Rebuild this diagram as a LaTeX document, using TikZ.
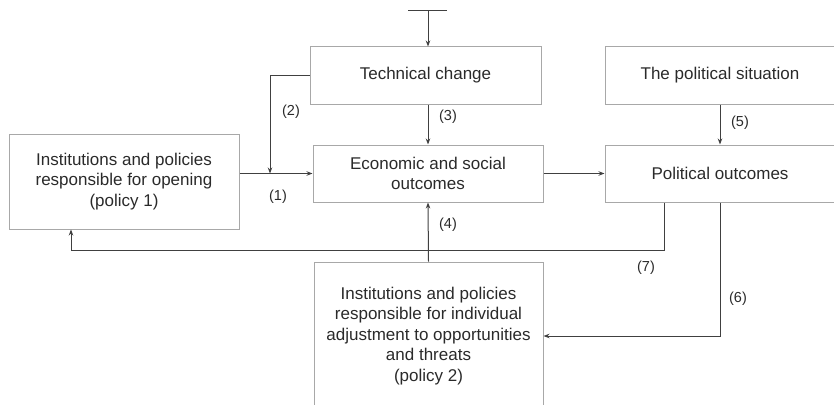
\documentclass[tikz,border=0pt]{standalone}
\usepackage{fontspec}
\setmainfont{Liberation Sans}
\usetikzlibrary{arrows.meta}
\definecolor{boxgray}{HTML}{A8A8A8}
\definecolor{linegray}{HTML}{404040}
\definecolor{txtgray}{HTML}{2A2A2A}
\tikzset{
  stage/.style={draw=boxgray,line width=1pt,rectangle,align=center,text=txtgray,
    font=\fontsize{17}{20.5}\selectfont,inner sep=0pt},
  link/.style={draw=linegray,line width=1pt,-{Stealth[length=6pt,width=4.5pt]}},
  tag/.style={text=txtgray,font=\fontsize{14.5}{17}\selectfont,inner sep=0pt}
}
\newcommand{\tagat}[4]{\node[tag] (#1) at (#2,#3) {#4};}

\begin{document}
\begin{tikzpicture}[x=1pt,y=-1pt]
	\useasboundingbox (0,0) rectangle (834,404);
	\clip (0,0) rectangle (834,404);
	
	% The boxes
	\node[stage,minimum width=231pt,minimum height=57pt] (tech) at (425.5,75.5) {Technical change};
	\node[stage,minimum width=230pt,minimum height=57pt] (econ) at (428,173.5) {Economic and social\\outcomes};
	\node[stage,minimum width=230pt,minimum height=57pt] (polsit) at (720,75.5) {The political situation};
	\node[stage,minimum width=230pt,minimum height=57pt] (polout) at (720,173.5) {Political outcomes};
	\node[stage,minimum width=230pt,minimum height=95pt] (policy1) at (124,181.5) {Institutions and policies\\responsible for opening\\(policy 1)};
	\node[stage,minimum width=229pt,minimum height=148pt] (policy2) at (428.5,336) {Institutions and policies\\responsible for individual\\adjustment to opportunities\\and threats\\(policy 2)};
	
	% Free ends of the connectors
	\coordinate (topL) at (408,11);
	\coordinate (topR) at (447,11);
	\coordinate (topIn) at (428,11);
	\coordinate (join2) at (270,173.5);
	\coordinate (turn7a) at (664,250);
	\coordinate (turn7b) at (71,250);
	
	% Connectors
	\draw[draw=linegray,line width=1pt] (topL) -- (topR);
	\draw[link] (topIn) -- (topIn |- tech.north);
	\draw[link] (policy1.east |- econ.west) -- (econ.west);
	\draw[link] (tech.west) -| (join2);
	\draw[link] (econ.north |- tech.south) -- (econ.north);
	\draw[link] (econ.east) -- (polout.west);
	\draw[link] (polsit.south) -- (polout.north);
	\draw[link] (policy2.north) -- (econ.south);
	\draw[link] (turn7a |- polout.south) -- (turn7a) -- (turn7b) -- (turn7b |- policy1.south);
	\draw[link] (polout.south) |- (policy2.east);
	
	% Numbers of the links
	\tagat{t1}{278}{197}{(1)}
	\tagat{t2}{291}{112}{(2)}
	\tagat{t3}{448}{117}{(3)}
	\tagat{t4}{448}{225}{(4)}
	\tagat{t5}{740}{123}{(5)}
	\tagat{t6}{738}{299}{(6)}
	\tagat{t7}{646}{268}{(7)}
\end{tikzpicture}
\end{document}
